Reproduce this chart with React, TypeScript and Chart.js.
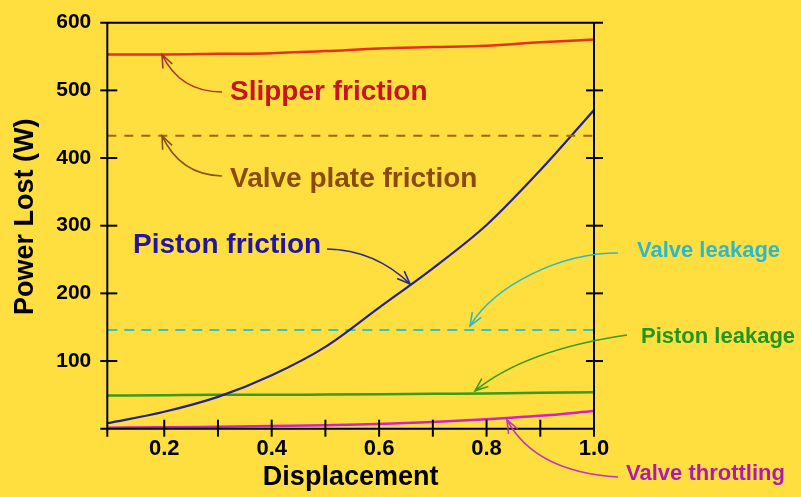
import React, { useEffect, useRef } from 'react';
import { Chart, registerables } from 'chart.js';

Chart.register(...registerables);

// ---------- data ----------
const displacement = [0.094, 0.2, 0.3, 0.4, 0.5, 0.6, 0.7, 0.8, 0.9, 1.0];
const slipperFriction = [553, 553, 554, 555, 558, 562, 564, 566, 571, 575];
const valvePlateFriction = [433, 433, 433, 433, 433, 433, 433, 433, 433, 433];
const pistonFriction = [8, 25, 47, 79, 121, 179, 237, 301, 382, 471];
const valveLeakage = [146, 146, 146, 146, 146, 146, 146, 146, 146, 146];
const pistonLeakage = [49, 49.5, 50, 50, 50.5, 51, 51.5, 52, 53, 54];
const valveThrottling = [1.5, 2, 3, 4, 5, 7, 10, 14, 19, 26];

const yTickValues = [100, 200, 300, 400, 500, 600];
const xTickValues = [0.2, 0.4, 0.6, 0.8, 1.0];
const xTickLabels = ['0.2', '0.4', '0.6', '0.8', '1.0'];
const xTickMarks = [0.2, 0.3, 0.4, 0.5, 0.6, 0.7, 0.8, 0.9];
const yTickMarks = [100, 200, 300, 400, 500];

const X_MIN = 0.094;
const X_MAX = 1.0;
const Y_MIN = 0;
const Y_MAX = 600;

const BG = '#FFDF40';
const FONT = '"Liberation Sans", Arial, Helvetica, sans-serif';

// annotation geometry in data units: label anchor, arrow start, control(s), tip
type Ann = {
  text: string;
  color: string;
  arrowColor: string;
  size: number;
  label: [number, number];
  start: [number, number];
  c1: [number, number];
  c2?: [number, number];
  tip: [number, number];
};

const annotations: Ann[] = [
  { text: 'Slipper friction', color: '#C4161C', arrowColor: '#A8321E', size: 28,
    label: [0.3224, 485.7], start: [0.3075, 497.6], c1: [0.2293, 497.6], tip: [0.1958, 553] },
  { text: 'Valve plate friction', color: '#8A4A0C', arrowColor: '#8A5014', size: 28,
    label: [0.3224, 357.2], start: [0.3075, 373.4], c1: [0.2293, 374.9], tip: [0.1958, 433] },
  { text: 'Piston friction', color: '#24169C', arrowColor: '#2A2A8C', size: 28,
    label: [0.1418, 259.6], start: [0.503, 265.6], c1: [0.5923, 264.1], tip: [0.6575, 214] },
  { text: 'Valve leakage', color: '#2CB8CA', arrowColor: '#2CB8CA', size: 22,
    label: [1.08, 253.7], start: [1.0447, 259.6], c1: [0.9367, 259.6], c2: [0.8157, 212.4], tip: [0.7692, 152] },
  { text: 'Piston leakage', color: '#21961E', arrowColor: '#3C9A16', size: 22,
    label: [1.0875, 126.6], start: [1.0614, 138.5], c1: [0.8716, 116.3], tip: [0.7785, 56] },
  { text: 'Valve throttling', color: '#B01AB4', arrowColor: '#C032C0', size: 22,
    label: [1.0596, -75.8], start: [1.0447, -71.4], c1: [0.8902, -64], tip: [0.838, 13] },
];

const series = [
  { label: 'Slipper friction', data: slipperFriction, color: '#E4301C', width: 2.5, dash: [] as number[] },
  { label: 'Valve plate friction', data: valvePlateFriction, color: '#A0621E', width: 2, dash: [9, 8] },
  { label: 'Piston friction', data: pistonFriction, color: '#22228A', width: 2.2, dash: [] as number[] },
  { label: 'Valve leakage', data: valveLeakage, color: '#2EC6C8', width: 2, dash: [10, 7] },
  { label: 'Piston leakage', data: pistonLeakage, color: '#3A9A1A', width: 2.5, dash: [] as number[] },
  { label: 'Valve throttling', data: valveThrottling, color: '#D420C8', width: 2.5, dash: [] as number[] },
];

const framePlugin = {
  id: 'frame',
  beforeDraw(chart: any) {
    const ctx = chart.ctx;
    ctx.save();
    ctx.fillStyle = BG;
    ctx.fillRect(0, 0, chart.width, chart.height);
    ctx.restore();
  },
  afterDatasetsDraw(chart: any) {
    const ctx = chart.ctx as CanvasRenderingContext2D;
    const { left, right, top, bottom } = chart.chartArea;
    const xs = chart.scales.x;
    const ys = chart.scales.y;
    const line = (x1: number, y1: number, x2: number, y2: number) => {
      ctx.beginPath();
      ctx.moveTo(x1, y1);
      ctx.lineTo(x2, y2);
      ctx.stroke();
    };
    ctx.save();
    ctx.strokeStyle = '#000';
    ctx.lineWidth = 2;
    ctx.lineCap = 'butt';
    line(left, top, left, bottom + 8);
    line(right, top, right, bottom + 8);
    line(left - 7, top, right + 9, top);
    line(left - 7, bottom, right, bottom);
    for (const v of yTickMarks) {
      const py = ys.getPixelForValue(v);
      line(left - 7, py, left + 10, py);
      line(right - 8, py, right + 9, py);
    }
    for (const v of xTickMarks) {
      const px = xs.getPixelForValue(v);
      line(px, bottom - 9, px, bottom + 8);
    }
    ctx.restore();

    // annotations
    for (const a of annotations) {
      const P = (p: [number, number]) => [xs.getPixelForValue(p[0]), ys.getPixelForValue(p[1])];
      const [sx, sy] = P(a.start);
      const [c1x, c1y] = P(a.c1);
      const [tx, ty] = P(a.tip);
      ctx.save();
      ctx.strokeStyle = a.arrowColor;
      ctx.lineWidth = 1.6;
      ctx.beginPath();
      ctx.moveTo(sx, sy);
      let lx = c1x, ly = c1y;
      if (a.c2) {
        const [c2x, c2y] = P(a.c2);
        ctx.bezierCurveTo(c1x, c1y, c2x, c2y, tx, ty);
        lx = c2x; ly = c2y;
      } else {
        ctx.quadraticCurveTo(c1x, c1y, tx, ty);
      }
      ctx.stroke();
      const ang = Math.atan2(ty - ly, tx - lx);
      const len = 14;
      const spread = 0.38;
      ctx.beginPath();
      ctx.moveTo(tx - len * Math.cos(ang - spread), ty - len * Math.sin(ang - spread));
      ctx.lineTo(tx, ty);
      ctx.lineTo(tx - len * Math.cos(ang + spread), ty - len * Math.sin(ang + spread));
      ctx.stroke();
      const [lxp, lyp] = P(a.label);
      ctx.fillStyle = a.color;
      ctx.font = `bold ${a.size}px ${FONT}`;
      ctx.textAlign = 'left';
      ctx.textBaseline = 'alphabetic';
      ctx.fillText(a.text, lxp, lyp);
      ctx.restore();
    }

    // y axis title
    ctx.save();
    ctx.translate(26, (top + bottom) / 2 - 9);
    ctx.rotate(-Math.PI / 2);
    ctx.fillStyle = '#000';
    ctx.font = `bold 27px ${FONT}`;
    ctx.textAlign = 'center';
    ctx.textBaseline = 'middle';
    ctx.fillText('Power Lost (W)', 0, 0);
    ctx.restore();
  },
};

export default function App() {
  const ref = useRef<HTMLCanvasElement | null>(null);
  useEffect(() => {
    if (!ref.current) return;
    const chart = new Chart(ref.current, {
      type: 'line',
      data: {
        datasets: series.map((s) => ({
          label: s.label,
          data: displacement.map((x, i) => ({ x, y: s.data[i] })),
          borderColor: s.color,
          borderWidth: s.width,
          borderDash: s.dash,
          pointRadius: 0,
          fill: false,
          cubicInterpolationMode: 'monotone' as const,
        })),
      },
      options: {
        animation: false,
        responsive: false,
        devicePixelRatio: 1,
        layout: { padding: { left: 0, top: 22.7, right: 207, bottom: 0 } },
        plugins: { legend: { display: false }, tooltip: { enabled: false } },
        scales: {
          x: {
            type: 'linear',
            min: X_MIN,
            max: X_MAX,
            grid: { display: false, drawTicks: false, tickLength: 0 },
            border: { display: false },
            afterBuildTicks: (s: any) => {
              s.ticks = xTickValues.map((v) => ({ value: v }));
            },
            afterFit: (s: any) => {
              s.height = 68.3;
              s.paddingLeft = 0;
              s.paddingRight = 0;
              s.paddingTop = 0;
              s.paddingBottom = 0;
            },
            ticks: {
              padding: 7,
              maxRotation: 0,
              autoSkip: false,
              color: '#000',
              font: { family: FONT, size: 22, weight: 'bold' },
              callback: (v: any) => {
                const i = xTickValues.findIndex((t) => Math.abs(t - Number(v)) < 1e-6);
                return i >= 0 ? xTickLabels[i] : '';
              },
            },
            title: {
              display: true,
              text: 'Displacement',
              color: '#000',
              font: { family: FONT, size: 27, weight: 'bold' },
              padding: { top: 0, bottom: 3 },
            },
          },
          y: {
            type: 'linear',
            min: Y_MIN,
            max: Y_MAX,
            grid: { display: false, drawTicks: false, tickLength: 0 },
            border: { display: false },
            afterBuildTicks: (s: any) => {
              s.ticks = yTickValues.map((v) => ({ value: v }));
            },
            afterFit: (s: any) => {
              s.width = 107.3;
              s.paddingLeft = 0;
              s.paddingRight = 0;
              s.paddingTop = 0;
              s.paddingBottom = 0;
            },
            ticks: {
              padding: 16,
              autoSkip: false,
              color: '#000',
              font: { family: FONT, size: 21, weight: 'bold' },
              callback: (v: any) => String(v),
            },
          },
        },
      },
      plugins: [framePlugin],
    } as any);
    return () => chart.destroy();
  }, []);
  return (
    <div style={{ position: 'absolute', left: 0, top: 0, width: 801, height: 497, background: BG }}>
      <canvas ref={ref} width={801} height={497} style={{ display: 'block' }} />
    </div>
  );
}
